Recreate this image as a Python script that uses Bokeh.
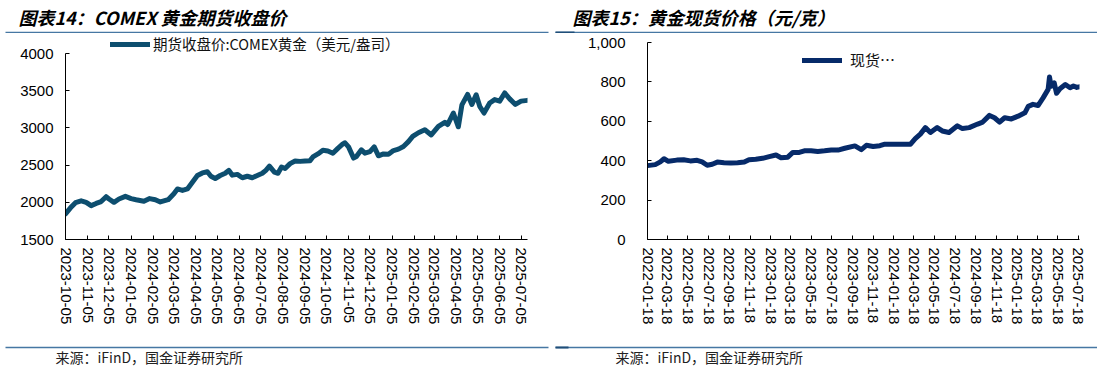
import pandas as pd
from bokeh.plotting import figure
from bokeh.models import (ColumnDataSource, Range1d, FixedTicker, DatetimeTickFormatter,
                          Legend, LegendItem, NumeralTickFormatter)
from bokeh.layouts import column, row
from bokeh.embed import file_html
from bokeh.resources import INLINE
from bokeh.core.properties import value

# ---------------- data ----------------
title_left = "图表14：COMEX 黄金期货收盘价"
title_right = "图表15：黄金现货价格（元/克）"
source_text = "来源：iFinD，国金证券研究所"
legend_left = "期货收盘价:COMEX黄金（美元/盎司）"
legend_right = "现货…"

comex_dates = [
    "2023-10-05", "2023-10-12", "2023-10-19", "2023-10-27", "2023-11-03", "2023-11-10",
    "2023-11-17", "2023-11-24", "2023-12-01", "2023-12-05", "2023-12-12", "2023-12-19",
    "2023-12-28", "2024-01-05", "2024-01-12", "2024-01-23", "2024-01-31", "2024-02-08",
    "2024-02-15", "2024-02-26", "2024-03-05", "2024-03-10", "2024-03-17", "2024-03-24",
    "2024-03-31", "2024-04-07", "2024-04-14", "2024-04-21", "2024-04-26", "2024-05-02",
    "2024-05-09", "2024-05-16", "2024-05-21", "2024-05-26", "2024-06-02", "2024-06-09",
    "2024-06-16", "2024-06-23", "2024-06-30", "2024-07-07", "2024-07-12", "2024-07-17",
    "2024-07-24", "2024-07-29", "2024-08-03", "2024-08-08", "2024-08-15", "2024-08-22",
    "2024-08-29", "2024-09-05", "2024-09-12", "2024-09-16", "2024-09-23", "2024-09-30",
    "2024-10-07", "2024-10-14", "2024-10-21", "2024-10-28", "2024-10-31", "2024-11-05",
    "2024-11-12", "2024-11-16", "2024-11-23", "2024-11-28", "2024-12-05", "2024-12-11",
    "2024-12-17", "2024-12-24", "2024-12-31", "2025-01-07", "2025-01-14", "2025-01-21",
    "2025-01-28", "2025-02-03", "2025-02-11", "2025-02-20", "2025-03-01", "2025-03-11",
    "2025-03-20", "2025-03-24", "2025-04-01", "2025-04-08", "2025-04-13", "2025-04-21",
    "2025-04-27", "2025-05-03", "2025-05-08", "2025-05-14", "2025-05-22", "2025-05-29",
    "2025-06-05", "2025-06-12", "2025-06-19", "2025-06-27", "2025-07-05", "2025-07-14",
]
comex_close = [
    1845, 1926, 1995, 2020, 2000, 1955,
    1985, 2010, 2075, 2045, 2000, 2045,
    2080, 2050, 2035, 2015, 2050, 2035,
    2005, 2035, 2115, 2180, 2160, 2180,
    2270, 2360, 2395, 2410, 2350, 2320,
    2360, 2390, 2430, 2365, 2375, 2330,
    2350, 2330, 2360, 2390, 2430, 2485,
    2405, 2390, 2475, 2455, 2520, 2555,
    2550, 2555, 2560, 2610, 2650, 2700,
    2690, 2660, 2725, 2785, 2800, 2745,
    2595, 2615, 2705, 2660, 2680, 2745,
    2625, 2650, 2645, 2695, 2715, 2750,
    2815, 2885, 2935, 2975, 2905, 3020,
    3075, 3045, 3200, 3015, 3310, 3450,
    3315, 3445, 3290, 3200, 3335, 3380,
    3360, 3470, 3390, 3315, 3360, 3370,
]

spot_dates = [
    "2022-01-18", "2022-02-10", "2022-02-25", "2022-03-08", "2022-03-21", "2022-04-15",
    "2022-05-05", "2022-05-25", "2022-06-14", "2022-06-29", "2022-07-14", "2022-07-29",
    "2022-08-13", "2022-09-02", "2022-09-22", "2022-10-12", "2022-11-01", "2022-11-15",
    "2022-12-05", "2022-12-25", "2023-01-14", "2023-02-03", "2023-02-18", "2023-03-10",
    "2023-03-25", "2023-04-13", "2023-04-28", "2023-05-18", "2023-06-07", "2023-06-27",
    "2023-07-17", "2023-08-06", "2023-08-26", "2023-09-25", "2023-10-14", "2023-10-29",
    "2023-11-18", "2023-12-08", "2023-12-23", "2024-03-08", "2024-03-22", "2024-04-06",
    "2024-04-21", "2024-05-06", "2024-05-26", "2024-06-10", "2024-06-30", "2024-07-25",
    "2024-08-09", "2024-08-29", "2024-09-23", "2024-10-08", "2024-10-28", "2024-11-12",
    "2024-11-27", "2024-12-12", "2025-01-01", "2025-01-21", "2025-02-10", "2025-02-20",
    "2025-03-06", "2025-03-21", "2025-04-05", "2025-04-20", "2025-04-24", "2025-04-29",
    "2025-05-08", "2025-05-15", "2025-05-25", "2025-06-10", "2025-06-24", "2025-07-04",
    "2025-07-14", "2025-07-21",
]
spot_price = [
    375, 380, 394, 410, 397, 403,
    405, 399, 402, 394, 377, 382,
    393, 390, 388, 390, 393, 405,
    407, 412, 421, 429, 415, 418,
    442, 442, 450, 450, 447, 450,
    454, 454, 463, 475, 456, 478,
    472, 476, 484, 484, 512, 535,
    568, 543, 568, 551, 543, 577,
    563, 568, 586, 596, 630, 618,
    596, 618, 612, 626, 643, 676,
    686, 680, 719, 762, 825, 778,
    795, 742, 765, 787, 770, 779,
    772, 775,
]

left_tick_labels = [
    "2023-10-05", "2023-11-05", "2023-12-05", "2024-01-05", "2024-02-05", "2024-03-05",
    "2024-04-05", "2024-05-05", "2024-06-05", "2024-07-05", "2024-08-05", "2024-09-05",
    "2024-10-05", "2024-11-05", "2024-12-05", "2025-01-05", "2025-02-05", "2025-03-05",
    "2025-04-05", "2025-05-05", "2025-06-05", "2025-07-05",
]
right_tick_labels = [
    "2022-01-18", "2022-03-18", "2022-05-18", "2022-07-18", "2022-09-18", "2022-11-18",
    "2023-01-18", "2023-03-18", "2023-05-18", "2023-07-18", "2023-09-18", "2023-11-18",
    "2024-01-18", "2024-03-18", "2024-05-18", "2024-07-18", "2024-09-18", "2024-11-18",
    "2025-01-18", "2025-03-18", "2025-05-18", "2025-07-18",
]
left_yticks = [1500, 2000, 2500, 3000, 3500, 4000]
right_yticks = [0, 200, 400, 600, 800, 1000]

left_xrange = ("2023-10-05", "2025-07-14")
right_xrange = ("2022-01-18", "2025-07-22")

# ---------------- helpers ----------------
def ms(s):
    return pd.Timestamp(s).value / 1e6

LEFT_COLOR = "#0D4E6F"
RIGHT_COLOR = "#062A69"
RULE_COLOR = "#4677A3"
CJK = "Noto Sans CJK SC"
LAT = "Liberation Sans"
date_fmt = DatetimeTickFormatter(days="%Y-%m-%d", months="%Y-%m-%d", years="%Y-%m-%d",
                                 hours="%Y-%m-%d", hourmin="%Y-%m-%d")

HDR_H = 33      # header: page y 0..33
PLOT_H = 303    # plots:  page y 33..336
FTR_H = 32      # footer: page y 336..368
AXIS_Y = 239    # page y of both x-axes


def style_axes(p, ystandoff):
    p.xgrid.visible = False
    p.ygrid.visible = False
    p.outline_line_color = None
    p.background_fill_color = "white"
    p.border_fill_color = "white"
    for ax in p.axis:
        ax.axis_line_color = "black"
        ax.axis_line_width = 1
        ax.major_tick_line_color = "black"
        ax.major_tick_in = 4
        ax.major_tick_out = 0
        ax.minor_tick_line_color = None
        ax.major_label_text_font = LAT
        ax.major_label_text_font_size = "15px"
        ax.major_label_text_color = "black"
    p.xaxis.major_label_orientation = "vertical"
    p.xaxis.major_label_standoff = 8
    p.yaxis.major_label_standoff = ystandoff
    p.xaxis.formatter = date_fmt


# ---------------- header ----------------
hdr = figure(width=1097, height=HDR_H, x_range=Range1d(0, 1097), y_range=Range1d(HDR_H, 0),
             x_axis_type=None, y_axis_type=None, toolbar_location=None,
             output_backend="svg", min_border=0)
hdr.outline_line_color = None
hdr.grid.visible = False
hdr.text(x=[18, 572], y=[16, 16], text=[title_left, title_right],
         text_font=value(CJK), text_font_size="18px", text_font_style="bold italic",
         text_baseline="middle", text_align="left", text_color="black")
hdr.segment(x0=[5, 555], y0=[32, 32], x1=[548, 1097], y1=[32, 32],
            line_color=RULE_COLOR, line_width=1.5)
hdr.segment(x0=[555], y0=[32], x1=[574], y1=[32], line_color="#1F4E79", line_width=2)

bottom_border = HDR_H + PLOT_H - AXIS_Y

# ---------------- left chart (page x 0..555) ----------------
# frame spans page y 33..239; value 4000 sits at page y 53 (axis line bounded to 1500..4000)
l_px = (left_yticks[-1] - left_yticks[0]) / (AXIS_Y - 53)
left_top = left_yticks[-1] + (53 - HDR_H) * l_px
src_l = ColumnDataSource(dict(d=pd.to_datetime(comex_dates), v=comex_close))
pl = figure(width=555, height=PLOT_H, x_axis_type="datetime",
            x_range=Range1d(ms(left_xrange[0]), ms(left_xrange[1])),
            y_range=Range1d(left_yticks[0], left_top),
            toolbar_location=None, output_backend="svg",
            min_border_left=65, min_border_right=28, min_border_top=0,
            min_border_bottom=bottom_border)
rl = pl.line(x="d", y="v", source=src_l, line_color=LEFT_COLOR, line_width=5,
             line_join="round", line_cap="round")
style_axes(pl, 12)
pl.yaxis.bounds = (left_yticks[0], left_yticks[-1])
pl.xaxis.ticker = FixedTicker(ticks=[ms(t) for t in left_tick_labels])
pl.yaxis.ticker = FixedTicker(ticks=left_yticks)
leg_l = Legend(items=[LegendItem(label=legend_left, renderers=[rl])],
               location=(45, AXIS_Y - 54),
               padding=0, margin=0, spacing=0, border_line_color=None,
               background_fill_alpha=0, glyph_width=40, glyph_height=20, label_height=20,
               label_standoff=3, label_text_font=CJK, label_text_font_size="14.5px",
               label_text_color="#111111")
pl.add_layout(leg_l)

# ---------------- right chart (page x 555..1097) ----------------
r_px = (right_yticks[-1] - right_yticks[0]) / (AXIS_Y - 42)
right_top = right_yticks[-1] + (42 - HDR_H) * r_px
src_r = ColumnDataSource(dict(d=pd.to_datetime(spot_dates), v=spot_price))
pr = figure(width=542, height=PLOT_H, x_axis_type="datetime",
            x_range=Range1d(ms(right_xrange[0]), ms(right_xrange[1])),
            y_range=Range1d(right_yticks[0], right_top),
            toolbar_location=None, output_backend="svg",
            min_border_left=92, min_border_right=18, min_border_top=0,
            min_border_bottom=bottom_border)
rr = pr.line(x="d", y="v", source=src_r, line_color=RIGHT_COLOR, line_width=5,
             line_join="round", line_cap="round")
style_axes(pr, 22)
pr.yaxis.bounds = (right_yticks[0], right_yticks[-1])
pr.xaxis.ticker = FixedTicker(ticks=[ms(t) for t in right_tick_labels])
pr.yaxis.ticker = FixedTicker(ticks=right_yticks)
pr.yaxis.formatter = NumeralTickFormatter(format="0,0")
leg_r = Legend(items=[LegendItem(label=legend_right, renderers=[rr])],
               location=(155, AXIS_Y - 70),
               padding=0, margin=0, spacing=0, border_line_color=None,
               background_fill_alpha=0, glyph_width=40, glyph_height=20, label_height=20,
               label_standoff=8, label_text_font=CJK, label_text_font_size="15px",
               label_text_color="#111111")
pr.add_layout(leg_r)

# ---------------- footer ----------------
ftr = figure(width=1097, height=FTR_H, x_range=Range1d(0, 1097), y_range=Range1d(FTR_H, 0),
             x_axis_type=None, y_axis_type=None, toolbar_location=None,
             output_backend="svg", min_border=0)
ftr.outline_line_color = None
ftr.grid.visible = False
ftr.segment(x0=[5, 555], y0=[11, 11], x1=[548, 1097], y1=[11, 11],
            line_color=RULE_COLOR, line_width=1.5)
ftr.segment(x0=[555], y0=[11], x1=[568], y1=[11], line_color="#1F4E79", line_width=2)
ftr.text(x=[55, 615], y=[20, 20], text=[source_text, source_text],
         text_font=value(CJK), text_font_size="14px", text_baseline="middle",
         text_align="left", text_color="#222222")

layout = column(hdr, row(pl, pr, spacing=0), ftr, spacing=0)
open("out.html", "w").write(file_html(layout, INLINE))
